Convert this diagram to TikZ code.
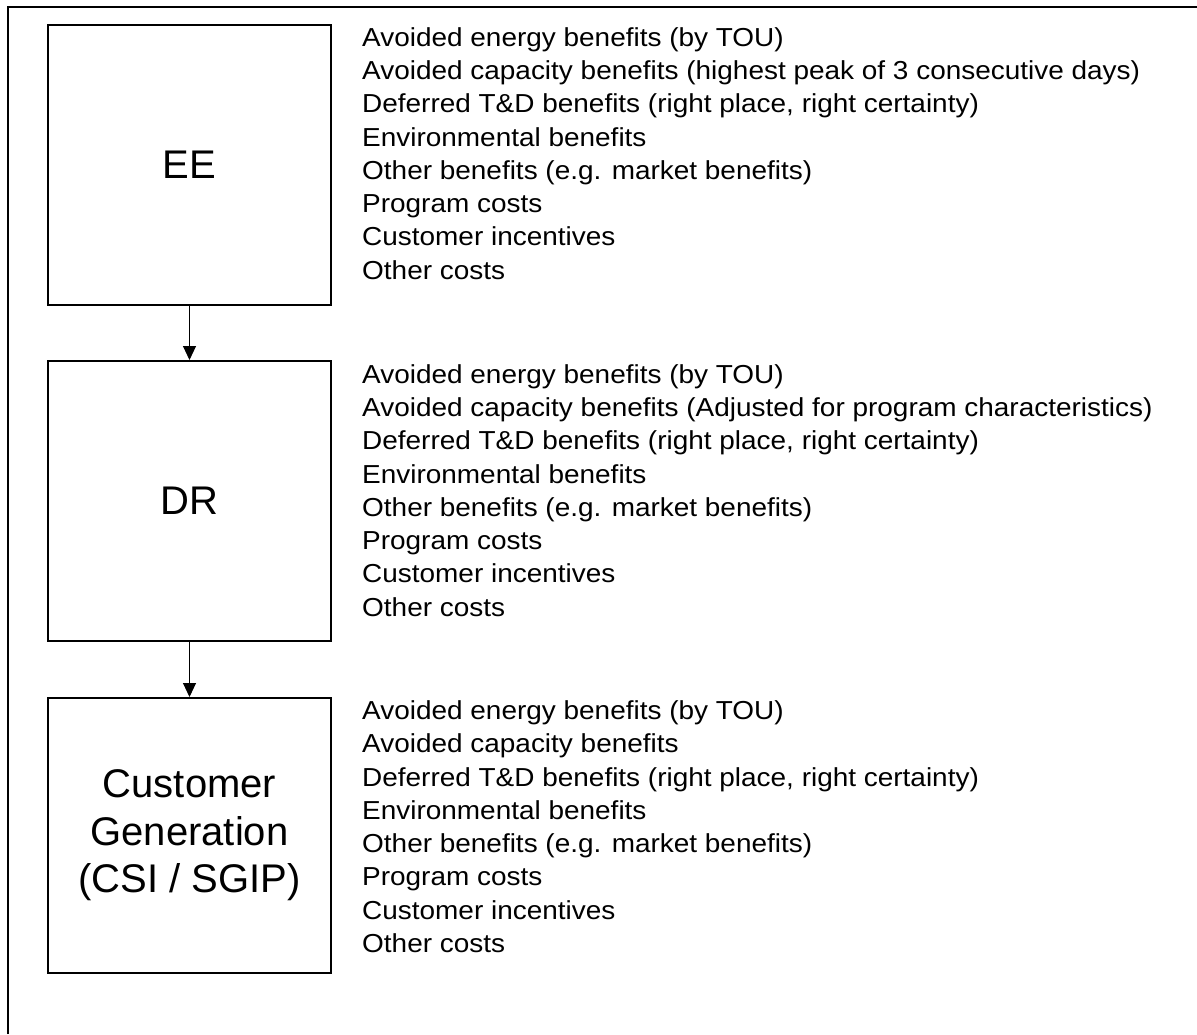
\documentclass[tikz,border=0pt]{standalone}
\usepackage{fontspec}
\setmainfont{Liberation Sans}
\newfontfamily\itemfont[FakeStretch=1.075]{Liberation Sans}
\usetikzlibrary{arrows.meta}
\begin{document}
\begin{tikzpicture}[x=1pt,y=-1pt,
  box/.style={draw, line width=2pt, minimum width=283pt, inner sep=0pt, align=center,
    font=\fontsize{40}{47.5}\selectfont},
  item/.style={anchor=base west, inner sep=0pt, font=\itemfont\fontsize{26}{33}\selectfont},
  arr/.style={line width=1pt, -{Triangle[length=14pt,width=13pt]}},
  frame/.style={line width=2pt}]
\useasboundingbox (0,0) rectangle (1197,1034);
\coordinate (fb) at (8,1034);
\coordinate (fc) at (8,7);
\coordinate (fr) at (1197,7);
\draw[frame] (fb) -- (fc) -- (fr);

\node[box, minimum height=280pt] (ee) at (189.5,165) {EE};
\node[box, minimum height=280pt] (dr) at (189.5,501) {DR};
\node[box, minimum height=275pt] (cg) at (189.5,835.5) {Customer\\Generation\\(CSI / SGIP)};

\draw[arr] (ee.south) -- (dr.north);
\draw[arr] (dr.south) -- (cg.north);

\foreach \t [count=\i] in {Avoided energy benefits (by TOU),
  Avoided capacity benefits (highest peak of 3 consecutive days),
  Deferred T\&D benefits (right place{,} right certainty),
  Environmental benefits,
  Other benefits (e.g. market benefits),
  Program costs,
  Customer incentives,
  Other costs}
  \node[item] (e\i) at (362,{46.2+33.29*(\i-1)}) {\t};

\foreach \t [count=\i] in {Avoided energy benefits (by TOU),
  Avoided capacity benefits (Adjusted for program characteristics),
  Deferred T\&D benefits (right place{,} right certainty),
  Environmental benefits,
  Other benefits (e.g. market benefits),
  Program costs,
  Customer incentives,
  Other costs}
  \node[item] (d\i) at (362,{383.2+33.29*(\i-1)}) {\t};

\foreach \t [count=\i] in {Avoided energy benefits (by TOU),
  Avoided capacity benefits,
  Deferred T\&D benefits (right place{,} right certainty),
  Environmental benefits,
  Other benefits (e.g. market benefits),
  Program costs,
  Customer incentives,
  Other costs}
  \node[item] (c\i) at (362,{719.5+33.29*(\i-1)}) {\t};
\end{tikzpicture}
\end{document}
